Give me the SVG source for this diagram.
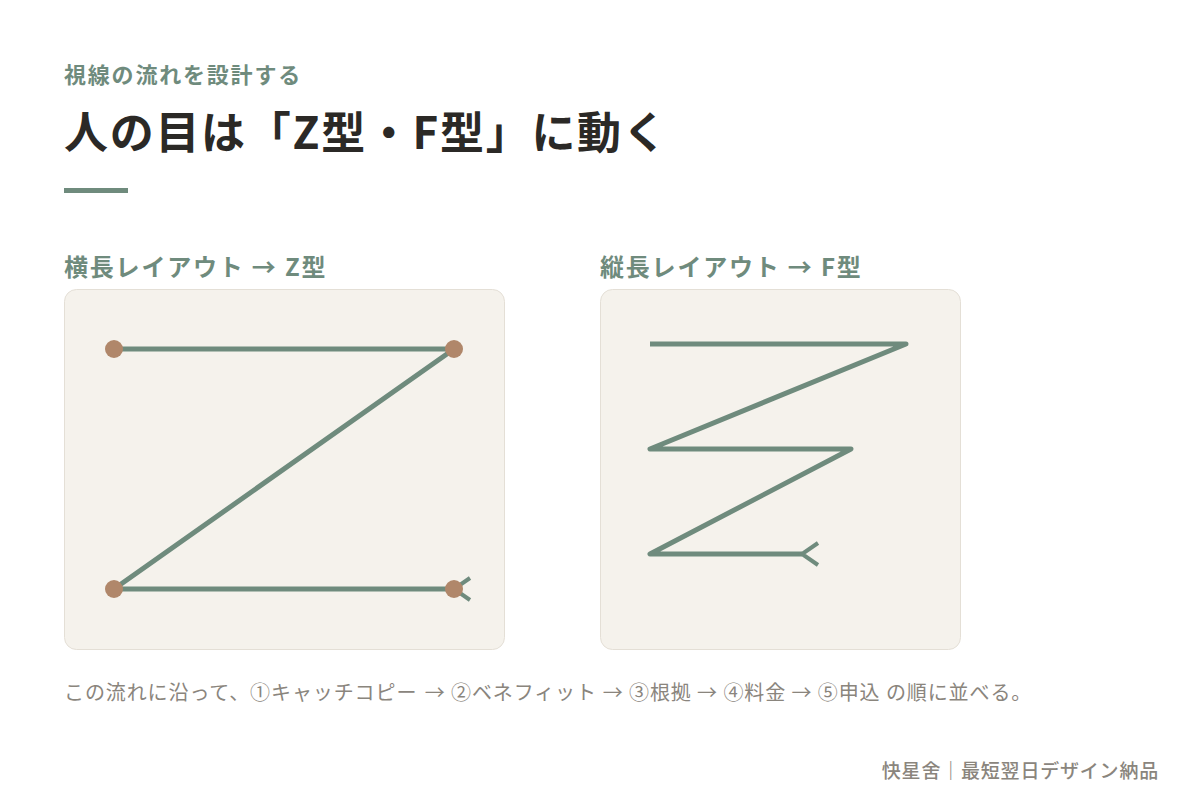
<svg xmlns="http://www.w3.org/2000/svg" width="1200" height="798" viewBox="0 0 1200 798">
  <style>
    .jp { font-family: "Noto Sans CJK JP", "Noto Sans", sans-serif; }
    .sub { font-size: 22px; font-weight: 700; fill: #6f8b7d; letter-spacing: 1.8px; }
    .title { font-size: 44px; font-weight: 700; fill: #2b2926; letter-spacing: 1.7px; }
    .label { font-size: 24px; font-weight: 700; fill: #6f8b7d; letter-spacing: 1.8px; }
    .note { font-size: 20px; font-weight: 400; fill: #8a857d; letter-spacing: 0.9px; }
    .foot { font-size: 19px; font-weight: 500; fill: #8a857d; letter-spacing: 0.8px; }
    .panel { fill: #f5f2ec; stroke: #e4dfd6; stroke-width: 1; }
    .flow { fill: none; stroke: #6f8b7d; stroke-width: 5; stroke-linejoin: round; stroke-linecap: butt; }
    .dot { fill: #b0876a; }
  </style>
  <defs>
    <marker id="arrow" viewBox="-3 -14 24 28" refX="0" refY="0" markerWidth="24" markerHeight="28" markerUnits="userSpaceOnUse" orient="auto" overflow="visible">
      <path d="M16,-11 L0,0 L16,11" fill="none" stroke="#6f8b7d" stroke-width="4"/>
    </marker>
  </defs>
  <rect width="1200" height="798" fill="#ffffff"/>

  <g id="header">
    <text class="jp sub" x="64" y="83">視線の流れを設計する</text>
    <text class="jp title" x="64" y="148.5">人の目は「Z型・F型」に動く</text>
    <rect x="64" y="188" width="64" height="5" fill="#6f8b7d"/>
  </g>

  <g id="panel-z">
    <text class="jp label" x="64" y="276">横長レイアウト → Z型</text>
    <rect class="panel" x="64.5" y="289.5" width="440" height="360" rx="12"/>
  </g>

  <g id="panel-f">
    <text class="jp label" x="600" y="276">縦長レイアウト → F型</text>
    <rect class="panel" x="600.5" y="289.5" width="360" height="360" rx="12"/>
  </g>

  <g id="connectors">
    <polyline class="flow" points="114,349 454,349 114,589 454,589" marker-end="url(#arrow)"/>
    <polyline class="flow" points="650,344 906,344 650,449 851,449 650,554 802,554" marker-end="url(#arrow)"/>
  </g>

  <g id="z-points">
    <circle class="dot" cx="114" cy="349" r="9"/>
    <circle class="dot" cx="454" cy="349" r="9"/>
    <circle class="dot" cx="114" cy="589" r="9"/>
    <circle class="dot" cx="454" cy="589" r="9"/>
  </g>

  <g id="footer">
    <text class="jp note" y="700"><tspan x="64">この流れに沿って、①キャッチコピー</tspan> <tspan x="424.7">→</tspan> <tspan x="451">②ベネフィット</tspan> <tspan x="602.7">→</tspan> <tspan x="629">③根拠</tspan> <tspan x="697.1">→</tspan> <tspan x="723.4">④料金</tspan> <tspan x="791.5">→</tspan> <tspan x="817.8">⑤申込</tspan> <tspan x="885.9">の順に並べる。</tspan></text>
    <text class="jp foot" x="1159" y="778" text-anchor="end">快星舍｜最短翌日デザイン納品</text>
  </g>
</svg>
